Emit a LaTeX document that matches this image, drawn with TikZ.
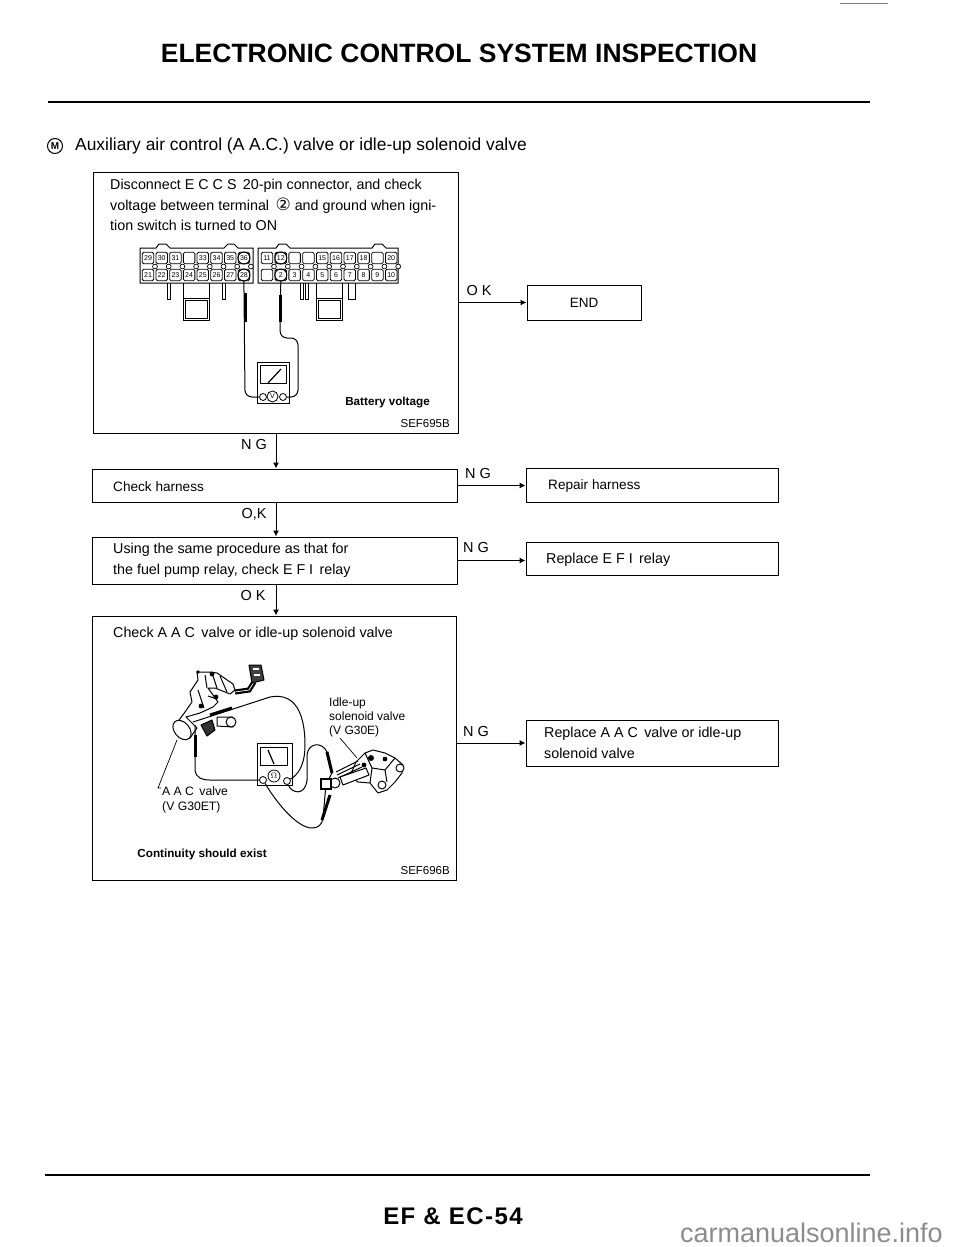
\documentclass[tikz,border=0pt]{standalone}
\usepackage{fontspec}
\setmainfont{Liberation Sans}
\newfontfamily\symfont{DejaVu Sans}
\usetikzlibrary{arrows.meta,positioning}
\tikzset{
  box/.style={draw, line width=1pt, inner xsep=0pt, inner ysep=0pt, fill=white, font=\fontsize{13.5}{20}\selectfont},
  txt/.style={font=\fontsize{14.3}{20.5}\selectfont, anchor=west, align=left, inner sep=0pt},
  txtB/.style={font=\fontsize{13.6}{20}\selectfont, anchor=west, inner sep=0pt},
  lbl/.style={font=\fontsize{14.5}{16}\selectfont, inner sep=0pt},
  small/.style={font=\fontsize{12}{14.5}\selectfont, anchor=west, align=left, inner sep=0pt},
  tag/.style={font=\fontsize{11.7}{13}\selectfont\bfseries, anchor=east, inner sep=0pt},
  codetxt/.style={font=\fontsize{11.5}{13}\selectfont, anchor=east, inner sep=0pt},
  arr/.style={-{Latex[length=6pt,width=6pt]}, line width=1pt},
  rulebar/.style={line width=2.6pt},
  pin/.style={draw, line width=.8pt, rounded corners=1.5pt, minimum size=11.5pt, inner sep=0pt, font=\fontsize{7}{7}\selectfont},
  jack/.style={draw, circle, line width=.8pt, minimum size=7pt, inner sep=0pt, fill=white},
  wire/.style={line width=1pt, rounded corners=7pt},
  probe/.style={line width=3pt},
  part/.style={draw, line width=1pt, fill=white, line join=round},
}
\begin{document}
\begin{tikzpicture}[x=1pt,y=-1pt]
\useasboundingbox (0,0) rectangle (960,1247);
% page head
\node[font=\fontsize{26.5}{30}\selectfont\bfseries, inner sep=0pt] (title) at (459,53) {ELECTRONIC CONTROL SYSTEM INSPECTION};
\coordinate (headL) at (48,102);
\coordinate (headR) at (870,102);
\draw[rulebar] (headL) -- (headR);
\coordinate (markL) at (840,3);
\coordinate (markR) at (888,3);
\draw[line width=.6pt, gray] (markL) -- (markR);
\node[draw, circle, line width=1pt, inner sep=0pt, minimum size=15pt, font=\fontsize{10}{10}\selectfont\bfseries] (mark) at (55,146) {M};
\node[font=\fontsize{17.4}{20}\selectfont, anchor=west, inner sep=0pt] (heading) at (75,146) {Auxiliary air control (A A.C.) valve or idle-up solenoid valve};

% flow boxes
\node[box, minimum width=365pt, minimum height=261pt] (ecm) at (275.5,302.5) {};
\node[box, minimum width=365pt, minimum height=33pt] (harness) at (274.5,485.5) {};
\node[box, minimum width=365pt, minimum height=47pt] (relay) at (274.5,560.5) {};
\node[box, minimum width=364pt, minimum height=264pt] (aac) at (274,748) {};
\node[box, minimum width=114pt, minimum height=35pt] (finish) at (584,302.5) {END};
\node[box, minimum width=252pt, minimum height=34pt] (repair) at (652,485.5) {};
\node[box, minimum width=252pt, minimum height=33pt] (relayfix) at (652,558.5) {};
\node[box, minimum width=252pt, minimum height=46pt] (aacfix) at (652,743) {};

% box texts
\node[txt] (ecmtxt) at (110,205) {Disconnect E C C S\, 20-pin connector, and check\\voltage between terminal\, {\symfont\fontsize{17}{20}\selectfont ②} and ground when igni-\\tion switch is turned to ON};
\node[txtB] (harnesstxt) at (113,487) {Check harness};
\node[txt] (relaytxt) at (113,560.5) {Using the same procedure as that for\\the fuel pump relay, check E F I\, relay};
\node[txt] (aactxt) at (113,634) {Check A A C\, valve or idle-up solenoid valve};
\node[txtB] (repairtxt) at (548,486) {Repair harness};
\node[txt] (relayfixtxt) at (546,560) {Replace E F I\, relay};
\node[txt] (aacfixtxt) at (544,743) {Replace A A C\, valve or idle-up\\solenoid valve};

% connectors
\draw[arr] (ecm.south -| 276,0) -- (harness.north -| 276,0);
\draw[arr] (harness.south -| 276,0) -- (relay.north -| 276,0);
\draw[arr] (relay.south -| 276,0) -- (aac.north -| 276,0);
\draw[arr] (ecm.east |- finish.west) -- (finish.west);
\draw[arr] (harness.east) -- (repair.west);
\draw[arr] (relay.east) -- (relay.east -| relayfix.west);
\draw[arr] (aac.east |- aacfix.west) -- (aacfix.west);
\node[lbl] (ng1) at (254,445) {N G};
\node[lbl] (ok1) at (254,514) {O,K};
\node[lbl] (ok2) at (253,596) {O K};
\node[lbl] (ok3) at (479,291) {O K};
\node[lbl] (ng2) at (478,474) {N G};
\node[lbl] (ng3) at (476,548) {N G};
\node[lbl] (ng4) at (476,731) {N G};

% connector housings
\draw[line width=1pt] (140,248) -- (156,248) -- (159,244) -- (166,244) -- (170,248) -- (224,248) -- (228,244) -- (234,244) -- (238,248) -- (253,248) -- (253,283) -- (140,283) -- cycle;
\draw[line width=1pt] (258,248) -- (276,248) -- (279,244) -- (286,244) -- (290,248) -- (372,248) -- (375,244) -- (382,244) -- (386,248) -- (398,248) -- (398,283) -- (258,283) -- cycle;
\draw[line width=1pt] (167,283) -- (167,299) -- (170,299) -- (170,283);
\draw[line width=1pt] (222,283) -- (222,299) -- (225,299) -- (225,283);
\draw[line width=1pt] (300,283) -- (300,299) -- (303,299) -- (303,283) (305,283) -- (305,299) -- (308,299) -- (308,283);
\draw[line width=1pt] (348,283) -- (348,299) -- (355,299) -- (355,283);
\draw[line width=1pt] (183,283) -- (183,320) -- (209,320) -- (209,283) (183,298) -- (209,298) (185,300) rectangle (207,318);
\draw[line width=1pt] (316,283) -- (316,320) -- (342,320) -- (342,283) (316,298) -- (342,298) (318,300) rectangle (340,318);
% pins
\foreach \num [count=\i from 0] in {29,30,31,,33,34,35,36} {
  \node[pin] (a\i) at (148+\i*13.7,258) {\num};
  \draw[fill=white, line width=.7pt] (155+\i*13.7,266.5) circle (2.4pt);
}
\foreach \num [count=\i from 0] in {21,22,23,24,25,26,27,28} {
  \node[pin] (p\num) at (148+\i*13.7,275) {\num};
}
\foreach \num [count=\i from 0] in {11,12,,,15,16,17,18,,20} {
  \node[pin] (b\i) at (267+\i*13.8,258) {\num};
  \draw[fill=white, line width=.7pt] (274+\i*13.8,266.5) circle (2.4pt);
}
\foreach \num [count=\i from 0] in {1,2,3,4,5,6,7,8,9,10} {
  \ifnum\i=0 \node[pin] (q\num) at (267+\i*13.8,275) {};
  \else \node[pin] (q\num) at (267+\i*13.8,275) {\num}; \fi
}
\draw[line width=1pt] (a7) circle (6pt) (p28) circle (6pt) (b1) circle (6pt) (q2) circle (6pt);

% voltmeter
\node[draw, line width=1pt, fill=white, minimum width=32pt, minimum height=41pt, inner sep=0pt] (vmeter) at (273,382.5) {};
\draw[line width=1pt] (260,365) rectangle (286,383);
\coordinate (needleA) at (268,383);
\coordinate (needleB) at (281,369);
\draw[line width=1.2pt] (needleA) -- (needleB);
\node[draw, circle, line width=.8pt, minimum size=11pt, inner sep=0pt, font=\fontsize{7}{7}\selectfont] (vsign) at (272.5,396.5) {V};
\node[jack] (vL) at (263,397) {};
\node[jack] (vR) at (283,397) {};
\draw[wire] (p28.south) -- (245,397) -- (vL);
\draw[wire] (q2.south) -- (280,338) -- (298,338) -- (298,397) -- (vR);
\coordinate (tipA) at (245,293);
\coordinate (tipB) at (245,322);
\coordinate (tipC) at (280,295);
\coordinate (tipD) at (280,322);
\draw[probe] (tipA) -- (tipB);
\draw[probe] (tipC) -- (tipD);
\node[tag] (battery) at (430,402) {Battery voltage};
\node[codetxt] (code1) at (450,424) {SEF695B};

% A A C valve
\draw[part] (197,672) -- (210,672) -- (217,673) -- (233,684) -- (235,690) -- (230,694) -- (215,688) -- (208,688) -- (218,702) -- (213,707) -- (200,713) -- (186,717) -- (197,728) -- (190,738) -- (176,724) -- (185,712) -- (192,702) -- (190,692) -- (198,680) -- cycle;
\draw[part, rotate around={40:(182,730)}] (182,730) ellipse (7.5pt and 11pt);
\draw[line width=1pt] (212,673) -- (217,688) (205,675) -- (207,688) (220,676) -- (227,692) (198,690) -- (204,708) (208,696) -- (214,698);
\fill (212,674) circle (2.4pt) (216,697) circle (2.4pt) (198,672) circle (1.8pt) (201,706) circle (2.4pt);
\draw[part] (217,717) -- (233,717) -- (233,727) -- (217,726) -- cycle;
\draw[part] (231,722) circle (5pt);
\draw[part, fill=black!80] (201,725) -- (212,720) -- (215,730) -- (207,736) -- cycle;
\draw[line width=2.2pt, double=white, double distance=.7pt] (235,692) -- (249,690) -- (254,682);
\draw[part, fill=black!75] (249,665) -- (261,665) -- (264,680) -- (252,683) -- cycle;
\draw[white, line width=1.2pt] (253,669) -- (259,669) (254,675) -- (260,675);

% solenoid valve
\draw[part] (365,753) -- (373,750) -- (385,753) -- (395,758) -- (403,765) -- (402,773) -- (395,782) -- (387,790) -- (378,793) -- (370,783) -- (358,782) -- (350,776) -- (356,762) -- cycle;
\draw[line width=1pt] (365,753) -- (372,768) -- (385,770) -- (395,758) (372,768) -- (370,783) (385,770) -- (387,782);
\fill (371,758) circle (3pt) (385,759) circle (2.4pt) (364,765) circle (2.4pt);
\draw[part] (382,785) circle (4pt);
\draw[part] (400,768) circle (4pt);
\draw[line width=1pt] (336,772) -- (358,761) (337,775) -- (360,764) (338,778) -- (362,767);
\draw[part] (340,777) -- (366,768) -- (369,775) -- (343,785) -- cycle;
\draw[part] (335,783) circle (5pt);
\node[draw, line width=1.8pt, fill=white, minimum size=10pt, inner sep=0pt] (plug) at (326,784) {};

% ohmmeter
\node[draw, line width=1pt, fill=white, minimum width=35pt, minimum height=42pt, inner sep=0pt] (ometer) at (274.5,764) {};
\draw[line width=1pt] (260,747) rectangle (287,765);
\coordinate (pointerA) at (268,750);
\coordinate (pointerB) at (274,764);
\draw[line width=1.2pt] (pointerA) -- (pointerB);
\node[draw, circle, line width=.8pt, minimum size=12pt, inner sep=0pt, font=\fontsize{8}{8}\selectfont] (osign) at (274,776) {$\Omega$};
\node[jack] (oL) at (263,780) {};
\node[jack] (oR) at (287,781) {};
\coordinate (aacA) at (195,725);
\coordinate (aacB) at (193,722);
\draw[line width=1pt] (aacA) -- (195,770) .. controls (196,778) and (202,780) .. (210,780) -- (oL);
\draw[line width=1pt] (aacB) -- (270,697) .. controls (296,692) and (305,715) .. (305,745) .. controls (305,765) and (298,775) .. (oR);
\draw[line width=1pt] (oR) .. controls (291,793) and (305,797) .. (307,780) -- (307,755) .. controls (308,743) and (322,741) .. (327,752) -- (332,773) -- (plug);
\draw[line width=1pt] (oL) .. controls (278,805) and (298,828) .. (312,828) .. controls (318,828) and (322,825) .. (323,818) -- (plug);
\coordinate (probeA) at (195,735);
\coordinate (probeB) at (195,757);
\coordinate (probeC) at (232,708);
\coordinate (probeD) at (210,715);
\coordinate (probeE) at (327,752);
\coordinate (probeF) at (332,773);
\coordinate (probeG) at (322,820);
\coordinate (probeH) at (330,795);
\draw[probe] (probeA) -- (probeB);
\draw[probe] (probeC) -- (probeD);
\draw[probe] (probeE) -- (probeF);
\draw[probe] (probeG) -- (probeH);

% valve labels
\node[small] (idle) at (329,709) {Idle-up\\solenoid valve};
\node[small] (vgA) at (329,731) {(V G30E)};
\node[small, font=\fontsize{12.2}{15}\selectfont] (aaclbl) at (162,799.5) {A A C\, valve\\(V G30ET)};
\coordinate (leadA) at (177,740);
\coordinate (leadB) at (158,788);
\coordinate (leadC) at (161,788);
\draw[line width=.7pt] (leadA) -- (leadB) -- (leadC);
\coordinate (leadD) at (340,738);
\coordinate (leadE) at (357,758);
\draw[line width=.7pt] (leadD) -- (leadE);
\node[tag] (continuity) at (267,854) {Continuity should exist};
\node[codetxt] (code2) at (450,871) {SEF696B};

% page foot
\coordinate (footL) at (45,1175);
\coordinate (footR) at (870,1175);
\draw[rulebar] (footL) -- (footR);
\node[font=\fontsize{24}{28}\selectfont\bfseries\addfontfeature{LetterSpace=6}, inner sep=0pt] (folio) at (453,1216) {EF \& EC-54};
\node[font=\fontsize{27}{30}\selectfont, text=black!45, anchor=east, inner sep=0pt] (site) at (943,1233) {carmanualsonline.info};
\end{tikzpicture}
\end{document}
